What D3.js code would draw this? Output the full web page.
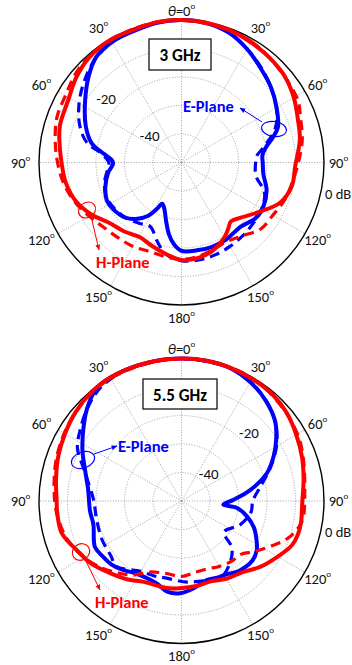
<!DOCTYPE html>
<html>
<head>
<meta charset="utf-8">
<script src="https://cdn.jsdelivr.net/npm/d3@7"></script>
<style>
  body { margin: 0; background: #fff; }
  text { font-family: Carlito, Calibri, Lato, "Open Sans", sans-serif; }
</style>
</head>
<body>
<script>
// polar patterns, values are [theta in degrees, gain in dB]
var angleTicks = [0, 30, 60, 90, 120, 150, 180, 210, 240, 270, 300, 330];
var angleLabels = ["0", "30", "60", "90", "120", "150", "180", "150", "120", "90", "60", "30"];
var ringValues = [-40, -30, -20, -10, 0];
var ringLabelValues = [-20, -40];
var freqLabels = ["3 GHz", "5.5 GHz"];

// 3 GHz
var e3meas = [[0,0],[10,-0.3],[20,-1.5],[30,-4],[40,-6.8],[50,-9],[60,-11.5],[70,-14],[75,-17],[80,-20],[85,-21.5],
  [90,-21.5],[98,-21],[108,-18.6],[118,-17.4],[127,-17.5],[137,-19.3],[150,-18.8],[160,-18.5],[170,-18.7],[180,-19],
  [185,-21],[190,-24.5],[195,-29],[200,-32.5],[205,-34],[208,-31.5],[212,-28],[218,-25],[225,-22.5],[235,-21],
  [243,-20.6],[252,-21.9],[262,-24],[269,-26],[272,-25.5],[278,-21.2],[282,-17.8],[291,-14],[303,-9.7],[313,-5.5],
  [321,-2.4],[330,-1.2],[338,-1],[350,-0.2]];
var e3sim = [[0,0],[10,-0.3],[20,-1.5],[30,-4],[40,-6.5],[50,-9],[60,-11.5],[70,-15],[80,-21],[85,-23.5],[90,-24],
  [100,-23.5],[110,-19],[120,-17.5],[130,-17],[140,-16.5],[150,-16],[160,-15.5],[170,-15.3],[180,-15.5],[190,-17.5],
  [197,-21],[206,-25],[215,-24],[225,-22.5],[235,-21.5],[245,-21],[255,-22],[265,-24],[270,-24.5],[276,-22],
  [282,-16],[290,-12],[300,-8.5],[310,-5.5],[320,-2.8],[330,-1.3],[340,-0.8],[350,-0.2]];
var h3meas = [[0,0],[10,-0.2],[20,-0.6],[30,-1.3],[40,-2],[50,-2.8],[60,-4.5],[70,-6.5],[79,-7.7],[92,-10.1],[102,-10.4],
  [112,-12.6],[122,-17.5],[133,-21.6],[140,-23],[145,-21.5],[150,-19.8],[160,-17.3],[170,-16],[180,-15.8],
  [190,-17.5],[200,-19],[209,-20],[220,-18.5],[230,-17],[240,-13.5],[250,-10.5],[260,-8.8],[270,-7.9],[280,-6.5],
  [287,-5.4],[299,-4.6],[309,-2.5],[319,-0.9],[330,-0.2],[338,-0.5],[350,0]];
var h3sim = [[0,0],[30,-1],[60,-3.5],[70,-5.5],[80,-7],[90,-9],[100,-10.5],[110,-11.5],[120,-13],[130,-13.7],
  [140,-16.5],[150,-18],[160,-17.5],[170,-16.5],[180,-16],[190,-16.5],[200,-16.8],[210,-16],[220,-15.5],[230,-14.5],
  [240,-12.5],[250,-10],[260,-8],[270,-6.5],[280,-5],[290,-3.5],[300,-3],[310,-1.5],[320,-0.7],[340,-0.2]];

// 5.5 GHz
var e55meas = [[0,0],[10,0],[20,-0.3],[30,-1.8],[40,-4],[50,-7],[57,-10.4],[64,-14],[72,-18.5],[81,-25.6],[89,-32],
  [95,-35.3],[97,-30.5],[103,-26.5],[110,-23],[117,-20.5],[123,-18.5],[130,-17.5],[140,-18.2],[150,-20],[155,-20.3],
  [162,-20.9],[172,-19.1],[181,-17.6],[189,-17.8],[197,-19.8],[207,-20.3],[215,-19.5],[220,-18.3],[228,-16.8],
  [235,-16.2],[242,-15.6],[255,-18],[264,-17.7],[277,-17],[288,-14.4],[297,-11],[306,-7.4],[314,-3.8],
  [323,-0.5],[335,0],[350,0]];
var e55sim = [[0,0],[20,-0.3],[30,-1.5],[40,-4],[50,-7],[60,-11.5],[70,-17],[80,-22],[90,-25],[99,-25.3],[112,-27.8],
  [126,-31.5],[133,-25.8],[142,-22.4],[154,-19.5],[165,-21],[176,-21.5],[192,-22.4],[200,-22],[210,-21.5],
  [225,-17.6],[232,-18.6],[244,-19],[257,-19.5],[271,-19.1],[288,-14],[297,-9],[306,-6.3],[315,-3.5],[325,-1],[340,0]];
var h55meas = [[0,0],[10,0],[20,-0.2],[30,-0.5],[40,-0.8],[50,-1.8],[60,-3.5],[70,-5],[80,-6.5],[90,-7.6],[100,-7.4],
  [106,-7.5],[112,-8.3],[120,-11],[130,-14],[139,-17],[150,-18.5],[160,-20],[170,-19.7],[181,-19.4],[190,-19],
  [205,-18.7],[215,-16.5],[225,-14.3],[235,-11.5],[243,-9.9],[255,-6.5],[265,-6.2],[270,-6.2],[280,-5.3],[290,-4],
  [300,-2.8],[310,-1.5],[320,-0.5],[330,0],[345,0]];
var h55sim = [[0,0],[30,-0.3],[60,-3],[90,-6.8],[100,-7.2],[109,-10.3],[117,-15],[125,-19],[132,-22],[140,-22.5],
  [150,-23.5],[159,-24.5],[170,-24.5],[180,-23.5],[193,-24],[205,-22.5],[213,-19],[221,-16.5],[230,-13.5],
  [240,-10.5],[250,-8],[260,-6.5],[270,-5.5],[290,-3.5],[310,-1.5],[330,-0.3]];

var width = 352, height = 665;
var R = 142.5;
var blue = "#0000ff", red = "#ff0000";

var svg = d3.select("body").append("svg")
  .attr("width", width)
  .attr("height", height);

svg.append("defs").selectAll("marker")
  .data([["arrBlue", blue], ["arrRed", red]])
  .enter().append("marker")
  .attr("id", function(d){ return d[0]; })
  .attr("viewBox", "0 0 10 10").attr("refX", 9).attr("refY", 5)
  .attr("markerWidth", 6).attr("markerHeight", 6)
  .attr("orient", "auto")
  .append("path").attr("d", "M0,1L10,5L0,9Z").attr("fill", function(d){ return d[1]; });

var r = d3.scaleLinear().domain([-50, 0]).range([0, R]).clamp(true);
var rad = function(deg){ return deg * Math.PI / 180; };

var line = d3.lineRadial()
  .angle(function(d){ return rad(d[0]); })
  .radius(function(d){ return r(d[1]); })
  .curve(d3.curveCatmullRomClosed.alpha(0.5));

function degText(sel, num, prefix) {
  if (prefix) {
    sel.append("tspan").style("font-style", "italic").text("θ");
    sel.append("tspan").text("=");
  }
  sel.append("tspan").text(num);
  sel.append("tspan").attr("font-size", 9).attr("dy", -6).text("o");
}

function draw_polar(cfg) {
  var g = svg.append("g").attr("transform", "translate(" + cfg.cx + "," + cfg.cy + ")");

  // grid rings
  g.selectAll("circle.ring")
    .data(ringValues)
    .enter().append("circle")
    .attr("r", function(d){ return r(d); })
    .attr("fill", "none")
    .attr("stroke", function(d){ return d == 0 ? "#000" : "#8a8a8a"; })
    .attr("stroke-width", function(d){ return d == 0 ? 1.4 : 0.8; })
    .attr("stroke-dasharray", function(d){ return d == 0 ? null : "1,1.6"; });

  // spokes
  g.selectAll("line.spoke")
    .data(angleTicks)
    .enter().append("line")
    .attr("x1", 0).attr("y1", 0)
    .attr("x2", function(d){ return R * Math.sin(rad(d)); })
    .attr("y2", function(d){ return -R * Math.cos(rad(d)); })
    .attr("stroke", "#8a8a8a").attr("stroke-width", 0.8)
    .attr("stroke-dasharray", "1,1.6");

  // angle labels
  angleTicks.forEach(function(a, i){
    var s = Math.sin(rad(a)), c = Math.cos(rad(a));
    var x = 156 * s + (s < -0.01 ? -5 : (s > 0.01 ? 1 : 0));
    var y = (a == 0 ? -152 : -155 * c);
    var t = g.append("text")
      .attr("x", x).attr("y", y)
      .attr("text-anchor", "middle")
      .attr("dominant-baseline", "central")
      .attr("font-size", 14.5).attr("fill", "#111");
    degText(t, angleLabels[i], a == 0);
  });

  // ring labels
  ringLabelValues.forEach(function(v){
    var rr = r(v) + cfg.ringOff;
    g.append("text")
      .attr("x", rr * Math.sin(rad(cfg.ringAngle)))
      .attr("y", -rr * Math.cos(rad(cfg.ringAngle)))
      .attr("text-anchor", "middle").attr("dominant-baseline", "central")
      .attr("font-size", 15).attr("fill", "#111")
      .text(v);
  });

  g.append("text")
    .attr("x", R + 1).attr("y", 31)
    .attr("dominant-baseline", "central")
    .attr("font-size", 14.5).attr("fill", "#111")
    .text("0 dB");

  // patterns
  var curves = [
    [cfg.e_meas, blue, null, 4],
    [cfg.e_sim, blue, "10,6", 3.2],
    [cfg.h_sim, red, "10,6", 3.2],
    [cfg.h_meas, red, null, 4]
  ];
  curves.forEach(function(c){
    g.append("path")
      .datum(c[0])
      .attr("d", line)
      .attr("fill", "none")
      .attr("stroke", c[1])
      .attr("stroke-width", c[3])
      .attr("stroke-linejoin", "round")
      .attr("stroke-dasharray", c[2]);
  });

  // frequency box
  var b = cfg.box;
  svg.append("rect")
    .attr("x", b[0]).attr("y", b[1]).attr("width", b[2]).attr("height", b[3])
    .attr("fill", "#fff").attr("stroke", "#000").attr("stroke-width", 1.2);
  svg.append("text")
    .attr("x", b[0] + b[2] / 2).attr("y", b[1] + b[3] / 2 + 1)
    .attr("text-anchor", "middle").attr("dominant-baseline", "central")
    .attr("font-size", 17).attr("font-weight", "bold").attr("fill", "#000")
    .text(cfg.freq);

  // plane annotations
  cfg.notes.forEach(function(n){
    svg.append("ellipse")
      .attr("transform", "translate(" + n.ell[0] + "," + n.ell[1] + ") rotate(" + n.ell[4] + ")")
      .attr("rx", n.ell[2]).attr("ry", n.ell[3])
      .attr("fill", "none").attr("stroke", n.color).attr("stroke-width", 1.1);
    svg.append("line")
      .attr("x1", n.arrow[0]).attr("y1", n.arrow[1])
      .attr("x2", n.arrow[2]).attr("y2", n.arrow[3])
      .attr("stroke", n.color).attr("stroke-width", 1)
      .attr("marker-end", "url(#" + (n.color == blue ? "arrBlue" : "arrRed") + ")");
    svg.append("text")
      .attr("x", n.text[0]).attr("y", n.text[1])
      .attr("dominant-baseline", "central")
      .attr("font-size", 16.5).attr("font-weight", "bold").attr("fill", n.color)
      .text(n.label);
  });
}

draw_polar({
  cx: 181.5, cy: 162.5, freq: freqLabels[0], box: [149, 39, 62, 31],
  ringAngle: -50, ringOff: 13,
  e_meas: e3meas, e_sim: e3sim, h_meas: h3meas, h_sim: h3sim,
  notes: [
    {label: "E-Plane", color: blue, text: [183, 106], ell: [274, 129, 12.5, 7.5, 8], arrow: [262, 122, 240, 108]},
    {label: "H-Plane", color: red, text: [96, 262], ell: [87, 210, 9, 7.5, -35], arrow: [91, 216, 99, 250]}
  ]
});

draw_polar({
  cx: 181.5, cy: 501, freq: freqLabels[1], box: [143, 379, 74, 30],
  ringAngle: 45, ringOff: 10,
  e_meas: e55meas, e_sim: e55sim, h_meas: h55meas, h_sim: h55sim,
  notes: [
    {label: "E-Plane", color: blue, text: [118, 446], ell: [83, 460, 12, 8, -20], arrow: [94, 454, 117, 446]},
    {label: "H-Plane", color: red, text: [95, 602], ell: [81, 552, 9, 8, -35], arrow: [85, 559, 100, 590]}
  ]
});
</script>
</body>
</html>
